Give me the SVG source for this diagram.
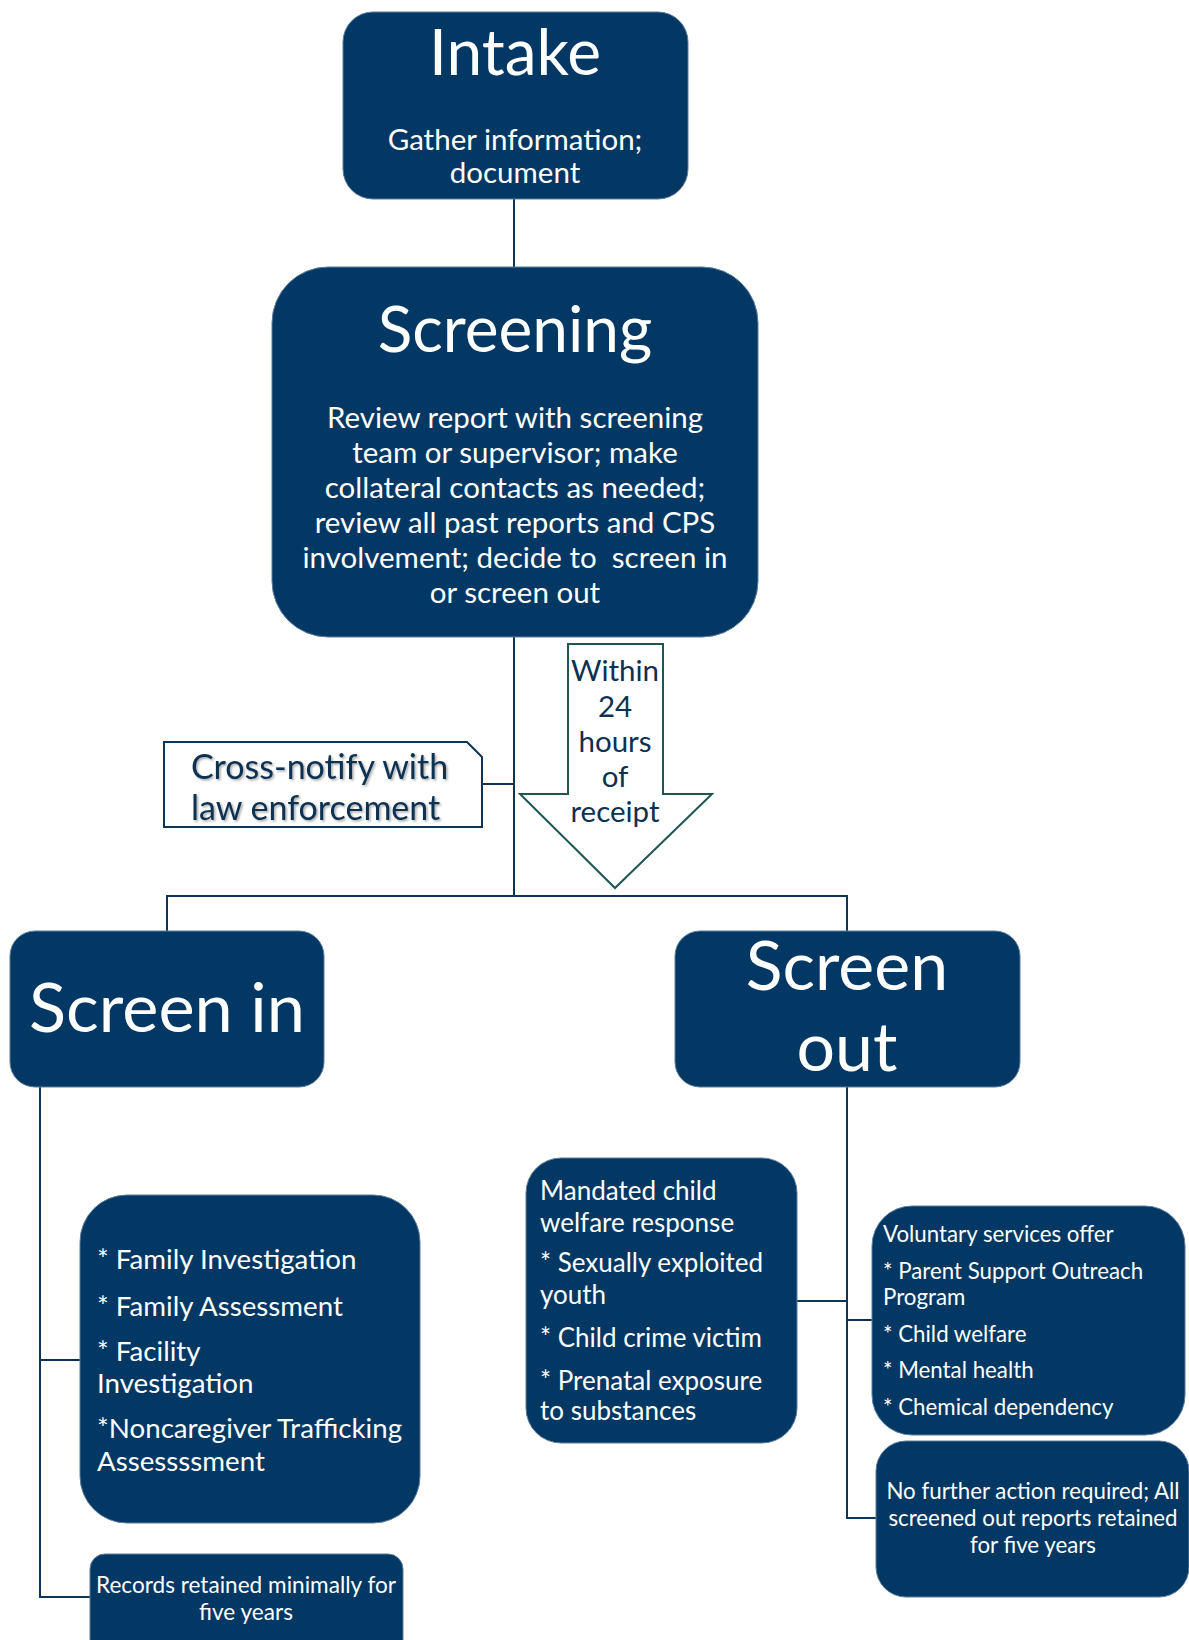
<svg xmlns="http://www.w3.org/2000/svg" width="1189" height="1640" viewBox="0 0 1189 1640">
<defs>
<style>
.box{fill:#023863;stroke:#5d7d9b;stroke-width:1}
.t{font-family:Lato,"Noto Sans","Liberation Sans",sans-serif;fill:#ffffff}
.c{text-anchor:middle}
.conn line{stroke:#0e3457;stroke-width:2}
.dk{font-family:Lato,"Noto Sans","Liberation Sans",sans-serif;fill:#0d3151}
</style>
<filter id="sh" x="-10%" y="-10%" width="120%" height="130%">
<feDropShadow dx="1.5" dy="1.5" stdDeviation="0.8" flood-color="#000" flood-opacity="0.35"/>
</filter>
</defs>
<rect width="1189" height="1640" fill="#ffffff"/>
<g id="connectors" class="conn">
<line x1="514" y1="199" x2="514" y2="268"/>
<line x1="514" y1="637" x2="514" y2="897"/>
<line x1="167" y1="896" x2="847" y2="896"/>
<line x1="167" y1="895" x2="167" y2="931"/>
<line x1="847" y1="895" x2="847" y2="931"/>
<line x1="482" y1="784" x2="514" y2="784"/>
<line x1="40" y1="1087" x2="40" y2="1598"/>
<line x1="39" y1="1360" x2="80" y2="1360"/>
<line x1="39" y1="1597" x2="90" y2="1597"/>
<line x1="847" y1="1087" x2="847" y2="1519"/>
<line x1="797" y1="1301" x2="847" y2="1301"/>
<line x1="846" y1="1320" x2="872" y2="1320"/>
<line x1="846" y1="1518" x2="876" y2="1518"/>
</g>
<g id="intake">
<rect class="box" x="343" y="12" width="345" height="187" rx="30"/>
<text class="t c" x="515" y="75" font-size="64">Intake</text>
<text class="t c" x="515" y="150" font-size="29.5">Gather information;</text>
<text class="t c" x="515" y="183" font-size="29.5">document</text>
</g>
<g id="screening">
<rect class="box" x="272" y="267" width="486" height="370" rx="56"/>
<text class="t c" x="515" y="352" font-size="64">Screening</text>
<g class="t c" font-size="29.5">
<text x="515" y="428">Review report with screening</text>
<text x="515" y="463">team or supervisor; make</text>
<text x="515" y="498">collateral contacts as needed;</text>
<text x="515" y="533">review all past reports and CPS</text>
<text x="515" y="568" xml:space="preserve">involvement; decide to  screen in</text>
<text x="515" y="603">or screen out</text>
</g>
</g>
<g id="crossnotify">
<path d="M164,742 H467 L482,757 V827 H164 Z" fill="#ffffff" stroke="#0e3457" stroke-width="2"/>
<g class="dk" font-size="34" filter="url(#sh)">
<text x="191" y="779">Cross-notify with</text>
<text x="191" y="820">law enforcement</text>
</g>
</g>
<g id="within24">
<polygon points="568,644 663,644 663,794 712,794 615,888 520,794 568,794" fill="#ffffff" stroke="#1f5553" stroke-width="2"/>
<g class="dk c" font-size="29.5">
<text x="615" y="681">Within</text>
<text x="615" y="717">24</text>
<text x="615" y="752">hours</text>
<text x="615" y="787">of</text>
<text x="615" y="822">receipt</text>
</g>
</g>
<g id="screenin">
<rect class="box" x="10" y="931" width="314" height="156" rx="25"/>
<text class="t c" x="167" y="1032" font-size="68.5">Screen in</text>
</g>
<g id="screenout">
<rect class="box" x="675" y="931" width="345" height="156" rx="25"/>
<text class="t c" x="847" y="990" font-size="68">Screen</text>
<text class="t c" x="847" y="1071" font-size="68">out</text>
</g>
<g id="screenin-options">
<rect class="box" x="80" y="1195" width="340" height="328" rx="47"/>
<g class="t" font-size="27.7">
<text x="97" y="1269">* Family Investigation</text>
<text x="97" y="1316">* Family Assessment</text>
<text x="97" y="1361">* Facility</text>
<text x="97" y="1393">Investigation</text>
<text x="97" y="1438">*Noncaregiver Trafficking</text>
<text x="97" y="1471">Assessssment</text>
</g>
</g>
<g id="records">
<rect class="box" x="90" y="1554" width="313" height="110" rx="15"/>
<text class="t c" x="246" y="1593" font-size="22.6">Records retained minimally for</text>
<text class="t c" x="246" y="1620" font-size="22.6">five years</text>
</g>
<g id="mandated">
<rect class="box" x="526" y="1158" width="271" height="285" rx="35"/>
<g class="t" font-size="26">
<text x="540" y="1200">Mandated child</text>
<text x="540" y="1232">welfare response</text>
<text x="540" y="1272">* Sexually exploited</text>
<text x="540" y="1304">youth</text>
<text x="540" y="1347">* Child crime victim</text>
<text x="540" y="1390">* Prenatal exposure</text>
<text x="540" y="1420">to substances</text>
</g>
</g>
<g id="voluntary">
<rect class="box" x="872" y="1206" width="313" height="229" rx="40"/>
<g class="t" font-size="22.3">
<text x="883" y="1242">Voluntary services offer</text>
<text x="883" y="1279">* Parent Support Outreach</text>
<text x="883" y="1305">Program</text>
<text x="883" y="1342">* Child welfare</text>
<text x="883" y="1378">* Mental health</text>
<text x="883" y="1415">* Chemical dependency</text>
</g>
</g>
<g id="nofurther">
<rect class="box" x="876" y="1441" width="313" height="156" rx="30"/>
<g class="t c" font-size="22.3">
<text x="1033" y="1499">No further action required; All</text>
<text x="1033" y="1526">screened out reports retained</text>
<text x="1033" y="1553">for five years</text>
</g>
</g>
</svg>
